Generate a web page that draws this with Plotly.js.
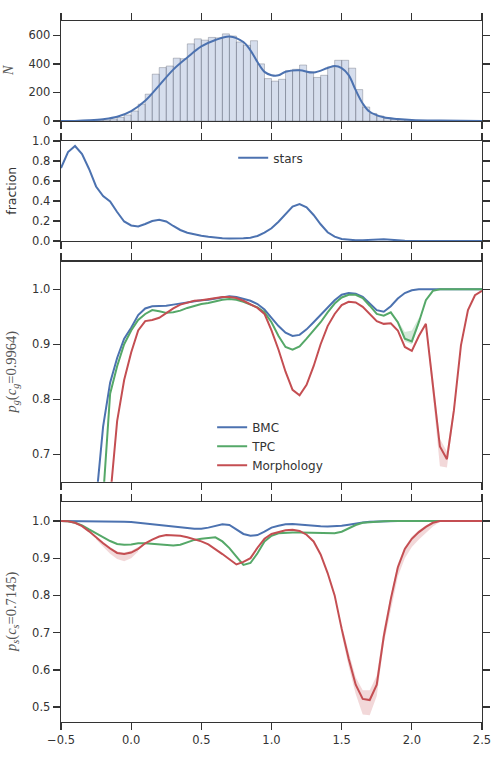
<!DOCTYPE html>
<html>
<head>
<meta charset="utf-8">
<script src="https://cdn.plot.ly/plotly-3.0.1.min.js"></script>
<style>html,body{margin:0;padding:0;background:#fff;}#chart{width:495px;height:762px;}</style>
</head>
<body>
<div id="chart"></div>
<script>
// ---------- data ----------
const histLeft = [-0.30,-0.25,-0.20,-0.15,-0.10,-0.05,0.00,0.05,0.10,0.15,0.20,0.25,0.30,0.35,0.40,0.45,0.50,0.55,0.60,0.65,0.70,0.75,0.80,0.85,0.90,0.95,1.00,1.05,1.10,1.15,1.20,1.25,1.30,1.35,1.40,1.45,1.50,1.55,1.60,1.65,1.70,1.75,1.80,1.85,1.90,1.95,2.00,2.05,2.10];
const histCount = [1,3,7,14,25,42,70,118,188,328,374,385,440,436,540,575,566,585,582,610,595,553,530,562,400,297,279,292,352,362,392,345,305,320,380,425,425,370,220,98,53,35,20,12,8,5,3,2,1];

const kdeX = [-0.5,-0.4,-0.3,-0.2,-0.1,0.0,0.1,0.2,0.3,0.4,0.5,0.6,0.7,0.8,0.85,0.9,0.95,1.0,1.05,1.1,1.2,1.3,1.4,1.45,1.5,1.55,1.6,1.65,1.7,1.8,1.9,2.0,2.2,2.5];
const kdeY = [0,1,5,13,30,70,142,250,360,445,522,567,592,553,495,413,344,321,320,345,355,339,371,385,371,321,216,123,65,26,14,7,3,1];

const zGrid = [-0.5,-0.45,-0.4,-0.35,-0.3,-0.25,-0.2,-0.15,-0.1,-0.05,0.0,0.05,0.1,0.15,0.2,0.25,0.3,0.35,0.4,0.45,0.5,0.55,0.6,0.65,0.7,0.75,0.8,0.85,0.9,0.95,1.0,1.05,1.1,1.15,1.2,1.25,1.3,1.35,1.4,1.45,1.5,1.55,1.6,1.65,1.7,1.75,1.8,1.85,1.9,1.95,2.0,2.05,2.1,2.15,2.2,2.25,2.3,2.35,2.4,2.45,2.5];

const fracStars = [0.73,0.89,0.95,0.87,0.72,0.545,0.45,0.395,0.29,0.195,0.155,0.145,0.17,0.2,0.213,0.195,0.15,0.11,0.083,0.066,0.053,0.042,0.033,0.028,0.024,0.023,0.027,0.033,0.05,0.083,0.127,0.193,0.267,0.343,0.37,0.337,0.26,0.167,0.087,0.043,0.02,0.01,0.007,0.008,0.013,0.017,0.017,0.012,0.005,0.002,0,0,0,0,0,0,0,0,0,0,0];

const pgBMC = [0.30,0.33,0.37,0.42,0.50,0.615,0.75,0.83,0.875,0.91,0.93,0.953,0.965,0.969,0.969,0.97,0.972,0.974,0.977,0.979,0.98,0.981,0.983,0.985,0.987,0.986,0.983,0.979,0.973,0.963,0.948,0.933,0.921,0.915,0.917,0.927,0.94,0.953,0.967,0.98,0.99,0.993,0.992,0.986,0.974,0.962,0.959,0.969,0.983,0.993,0.998,1,1,1,1,1,1,1,1,1,1];
const pgTPC = [0.25,0.28,0.31,0.35,0.40,0.47,0.62,0.81,0.86,0.90,0.925,0.944,0.955,0.962,0.96,0.957,0.958,0.961,0.966,0.97,0.973,0.975,0.978,0.981,0.982,0.981,0.977,0.972,0.967,0.958,0.94,0.915,0.895,0.89,0.896,0.91,0.925,0.94,0.958,0.974,0.985,0.99,0.99,0.984,0.97,0.955,0.952,0.958,0.94,0.91,0.905,0.94,0.98,0.997,1,1,1,1,1,1,1];
const pgMorph = [0.20,0.22,0.25,0.28,0.31,0.35,0.45,0.62,0.76,0.835,0.885,0.925,0.942,0.944,0.948,0.957,0.965,0.972,0.976,0.979,0.98,0.982,0.984,0.986,0.986,0.984,0.979,0.973,0.966,0.955,0.925,0.89,0.85,0.817,0.807,0.826,0.86,0.9,0.933,0.955,0.971,0.977,0.976,0.968,0.955,0.942,0.937,0.938,0.925,0.895,0.888,0.915,0.937,0.829,0.714,0.691,0.78,0.898,0.962,0.989,0.997];

const pgTPCBandX = [1.9,1.95,2.0,2.05];
const pgTPCBandLo = [0.938,0.905,0.9,0.935];
const pgTPCBandHi = [0.943,0.922,0.925,0.948];
const pgMorphBandX = [2.1,2.15,2.2,2.25,2.3];
const pgMorphBandLo = [0.934,0.812,0.678,0.676,0.77];
const pgMorphBandHi = [0.94,0.842,0.728,0.705,0.79];

const psBMC = [1,1,1,1,1,1,1,0.999,0.999,0.998,0.997,0.995,0.993,0.991,0.989,0.987,0.985,0.985,0.981,0.979,0.979,0.982,0.987,0.991,0.989,0.978,0.965,0.96,0.962,0.971,0.982,0.987,0.991,0.992,0.991,0.989,0.987,0.986,0.985,0.985,0.987,0.99,0.994,0.996,0.998,0.999,1,1,1,1,1,1,1,1,1,1,1,1,1,1,1];
const psTPC = [1,0.999,0.995,0.988,0.977,0.966,0.956,0.946,0.938,0.936,0.937,0.94,0.94,0.939,0.937,0.936,0.934,0.936,0.942,0.949,0.952,0.955,0.956,0.945,0.927,0.904,0.882,0.887,0.913,0.945,0.96,0.967,0.969,0.969,0.969,0.969,0.968,0.967,0.967,0.967,0.971,0.98,0.989,0.995,0.997,0.998,0.999,1,1,1,1,1,1,1,1,1,1,1,1,1,1];
const psMorph = [1,0.999,0.995,0.986,0.972,0.955,0.94,0.926,0.914,0.911,0.915,0.925,0.94,0.95,0.958,0.962,0.962,0.96,0.956,0.951,0.945,0.937,0.925,0.911,0.897,0.883,0.89,0.9,0.928,0.952,0.965,0.971,0.975,0.976,0.973,0.963,0.945,0.91,0.86,0.8,0.71,0.63,0.56,0.522,0.519,0.56,0.69,0.79,0.875,0.925,0.952,0.97,0.984,0.995,1,1,1,1,1,1,1];

const psMorphBand1X = [-0.25,-0.2,-0.15,-0.1,-0.05,0.0,0.05];
const psMorphBand1Lo = [0.95,0.932,0.912,0.898,0.892,0.9,0.918];
const psMorphBand1Hi = [0.958,0.944,0.93,0.918,0.915,0.92,0.93];
const psMorphBand2X = [1.5,1.55,1.6,1.65,1.7,1.75,1.8];
const psMorphBand2Lo = [0.695,0.61,0.535,0.48,0.478,0.53,0.67];
const psMorphBand2Hi = [0.722,0.648,0.58,0.545,0.545,0.585,0.71];
const psMorphBand3X = [1.8,1.85,1.9,1.95,2.0,2.05,2.1,2.15,2.2];
const psMorphBand3Lo = [0.67,0.765,0.85,0.9,0.93,0.95,0.968,0.985,0.998];
const psMorphBand3Hi = [0.71,0.8,0.885,0.93,0.958,0.975,0.988,0.998,1.0];

// ---------- style ----------
const BLUE = '#4c72b0', GREEN = '#55a868', RED = '#c44e52';
const AX = '#333333';
const tickFont = {family: 'DejaVu Sans, sans-serif', size: 11.5, color: '#333'};

function line(x, y, color, name, xa, ya, legend, show) {
  return {type: 'scatter', mode: 'lines', x: x, y: y, name: name,
    line: {color: color, width: 2}, xaxis: xa, yaxis: ya,
    showlegend: !!show, legend: legend || 'legend', hoverinfo: 'skip'};
}
function band(x, lo, hi, color, xa, ya) {
  return {type: 'scatter', mode: 'lines', x: x.concat(x.slice().reverse()),
    y: lo.concat(hi.slice().reverse()), fill: 'toself', fillcolor: color,
    line: {width: 0, color: 'rgba(0,0,0,0)'}, xaxis: xa, yaxis: ya,
    showlegend: false, hoverinfo: 'skip'};
}

const traces = [
  {type: 'bar', x: histLeft, y: histCount, width: 0.05, offset: 0,
   marker: {color: 'rgba(76,114,176,0.23)', line: {color: 'rgba(90,95,110,0.45)', width: 0.8}},
   xaxis: 'x', yaxis: 'y', showlegend: false, hoverinfo: 'skip'},
  Object.assign(line(kdeX, kdeY, BLUE, 'kde', 'x', 'y'), {line: {color: BLUE, width: 2, shape: 'spline'}}),
  line(zGrid, fracStars, BLUE, 'stars', 'x2', 'y2', 'legend', true),

  band(pgTPCBandX, pgTPCBandLo, pgTPCBandHi, 'rgba(85,168,104,0.25)', 'x3', 'y3'),
  band(pgMorphBandX, pgMorphBandLo, pgMorphBandHi, 'rgba(196,78,82,0.22)', 'x3', 'y3'),
  line(zGrid, pgBMC, BLUE, 'BMC', 'x3', 'y3', 'legend2', true),
  line(zGrid, pgTPC, GREEN, 'TPC', 'x3', 'y3', 'legend2', true),
  line(zGrid, pgMorph, RED, 'Morphology', 'x3', 'y3', 'legend2', true),

  band(psMorphBand1X, psMorphBand1Lo, psMorphBand1Hi, 'rgba(196,78,82,0.22)', 'x4', 'y4'),
  band(psMorphBand2X, psMorphBand2Lo, psMorphBand2Hi, 'rgba(196,78,82,0.22)', 'x4', 'y4'),
  band(psMorphBand3X, psMorphBand3Lo, psMorphBand3Hi, 'rgba(196,78,82,0.22)', 'x4', 'y4'),
  line(zGrid, psBMC, BLUE, 'BMC', 'x4', 'y4'),
  line(zGrid, psTPC, GREEN, 'TPC', 'x4', 'y4'),
  line(zGrid, psMorph, RED, 'Morphology', 'x4', 'y4')
];

function xax(anchor, labels) {
  return {anchor: anchor, range: [-0.5, 2.5], dtick: 0.5, tick0: -0.5, tickformat: '.1f',
    showticklabels: labels, ticks: 'outside', ticklen: 7, tickwidth: 1.3, tickcolor: AX,
    showline: true, linecolor: AX, linewidth: 1.3, mirror: 'ticks', showgrid: false,
    zeroline: false, tickfont: tickFont};
}
function yax(anchor, domain, range, tickvals, fmt) {
  return {anchor: anchor, domain: domain, range: range, tickvals: tickvals, tickformat: fmt,
    ticks: 'outside', ticklen: 7, tickwidth: 1.3, tickcolor: AX,
    showline: true, linecolor: AX, linewidth: 1.3, mirror: 'ticks', showgrid: false,
    zeroline: false, tickfont: tickFont};
}

const layout = {
  width: 495, height: 762,
  margin: {l: 61, r: 13, t: 21, b: 40},
  paper_bgcolor: '#fff', plot_bgcolor: '#fff',
  font: {family: 'DejaVu Sans, sans-serif', color: '#333'},
  bargap: 0,
  xaxis: xax('y', false),
  xaxis2: Object.assign(xax('y2', false), {matches: 'x'}),
  xaxis3: Object.assign(xax('y3', false), {matches: 'x'}),
  xaxis4: Object.assign(xax('y4', true), {matches: 'x'}),
  yaxis: yax('x', [0.8573, 1.0], [0, 700], [0, 200, 400, 600], 'd'),
  yaxis2: yax('x2', [0.6862, 0.8288], [0, 1], [0, 0.2, 0.4, 0.6, 0.8, 1.0], '.1f'),
  yaxis3: yax('x3', [0.3428, 0.6566], [0.65, 1.05], [0.7, 0.8, 0.9, 1.0], '.1f'),
  yaxis4: yax('x4', [0, 0.3134], [0.46, 1.05], [0.5, 0.6, 0.7, 0.8, 0.9, 1.0], '.1f'),
  legend: {x: 0.409, y: 0.8048, xanchor: 'left', yanchor: 'middle', bgcolor: 'rgba(0,0,0,0)',
    font: {family: 'DejaVu Sans, sans-serif', size: 12, color: '#333'}},
  legend2: {x: 0.359, y: 0.3932, xanchor: 'left', yanchor: 'middle', bgcolor: 'rgba(0,0,0,0)',
    tracegroupgap: 0, font: {family: 'DejaVu Sans, sans-serif', size: 12, color: '#333'}},
  annotations: [
    {text: '<i>N</i>', xref: 'paper', yref: 'paper', x: -0.1235, y: 0.9287, xanchor: 'center', yanchor: 'middle',
     textangle: -90, showarrow: false, font: {family: 'Liberation Serif, serif', size: 14, color: '#555'}},
    {text: 'fraction', xref: 'paper', yref: 'paper', x: -0.117, y: 0.7575, xanchor: 'center', yanchor: 'middle',
     textangle: -90, showarrow: false, font: {family: 'DejaVu Sans, sans-serif', size: 12.5, color: '#333'}},
    {text: '<i>p<sub>g</sub></i>(<i>c<sub>g</sub></i>=0.9964)', xref: 'paper', yref: 'paper', x: -0.117, y: 0.4997,
     xanchor: 'center', yanchor: 'middle', textangle: -90, showarrow: false,
     font: {family: 'Liberation Serif, serif', size: 14.5, color: '#555'}},
    {text: '<i>p<sub>s</sub></i>(<i>c<sub>s</sub></i>=0.7145)', xref: 'paper', yref: 'paper', x: -0.117, y: 0.1567,
     xanchor: 'center', yanchor: 'middle', textangle: -90, showarrow: false,
     font: {family: 'Liberation Serif, serif', size: 14.5, color: '#555'}},
    {text: '<i>z</i><sub>phot</sub>', xref: 'paper', yref: 'paper', x: 0.5, y: -0.068, xanchor: 'center', yanchor: 'middle',
     showarrow: false, font: {family: 'Liberation Serif, serif', size: 14, color: '#555'}}
  ]
};

Plotly.newPlot('chart', traces, layout, {displayModeBar: false, staticPlot: true});
</script>
</body>
</html>
